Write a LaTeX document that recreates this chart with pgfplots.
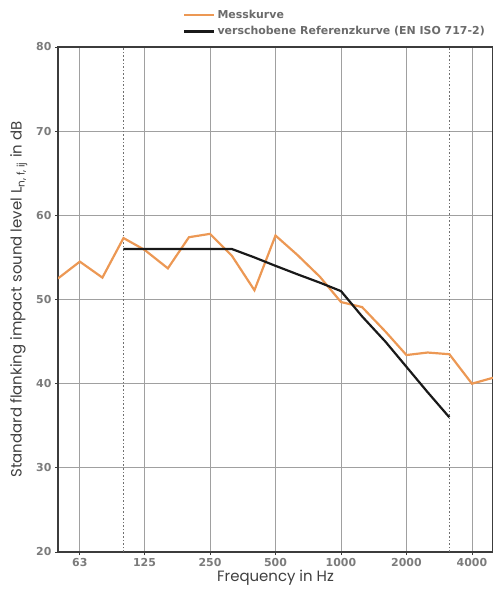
\documentclass[border=0pt]{standalone}
\usepackage{pgfplots}
\pgfplotsset{compat=1.18}
\usepackage{fontspec}
\setmainfont{Poppins}
\newfontfamily\tickfont{DejaVu Sans}
\definecolor{orangeline}{RGB}{236,152,84}
\definecolor{gridgrey}{RGB}{160,160,160}
\definecolor{textgrey}{RGB}{90,90,90}
\definecolor{framegrey}{RGB}{60,60,60}
\pgfplotstableread{
f L
50 52.5
63 54.5
80 52.6
100 57.3
125 55.9
160 53.7
200 57.4
250 57.8
315 55.2
400 51.1
500 57.6
630 55.3
800 52.7
1000 49.7
1250 49.1
1600 46.2
2000 43.4
2500 43.7
3150 43.5
4000 40.0
5000 40.7
}\mess
\pgfplotstableread{
f L
100 56
125 56
160 56
200 56
250 56
315 56
400 55
500 54
630 53
800 52
1000 51
1250 48
1600 45
2000 42
2500 39
3150 36
}\ref
\begin{document}
\begin{tikzpicture}
\useasboundingbox (-58bp,-39bp) rectangle (435bp,552bp);
\begin{axis}[
  at={(0,0)}, anchor=south west,
  scale only axis,
  width=435bp, height=505bp,
  xmode=log, log basis x=2,
  xmin=50, xmax=5000, ymin=20, ymax=80,
  xtick={63,125,250,500,1000,2000,4000},
  xticklabels={63,125,250,500,1000,2000,4000},
  ytick={20,30,40,50,60,70,80},
  grid=major,
  major grid style={gridgrey, line width=0.8pt},
  axis line style={framegrey, line width=1.6pt},
  tick style={framegrey, line width=0.8pt},
  tick align=outside,
  major tick length=3bp,
  xtick pos=bottom, ytick pos=left,
  ticklabel style={font=\tickfont\fontsize{11}{12}\selectfont\bfseries, text=textgrey!80},
  /pgf/number format/assume math mode=true,
  xlabel={Frequency in Hz},
  ylabel={Standard flanking impact sound level L\textsubscript{n, f, ij} in dB},
  label style={font=\fontsize{15}{17}\selectfont, text=textgrey!70!black},
  xlabel style={yshift=4bp},
  ylabel style={yshift=2bp},
  legend style={draw=none, fill=none, at={(0.287,1.077)}, anchor=north west,
    font=\tickfont\fontsize{11}{12.5}\selectfont\bfseries, text=textgrey!90,
    row sep=2.5bp, cells={anchor=west}, inner sep=0pt},
  legend cell align=left,
  legend image code/.code={\draw[#1, line width=2.5pt] (0bp,0bp) -- (30bp,0bp);},
]
\addplot[gridgrey!70!black, line width=1.6pt, dotted, forget plot] coordinates {(100,20) (100,80)};
\addplot[gridgrey!70!black, line width=1.6pt, dotted, forget plot] coordinates {(3150,20) (3150,80)};
\addplot[orangeline, line width=2.2pt] table[x=f,y=L] {\mess};
\addlegendentry{Messkurve}
\addplot[black!90, line width=2.2pt] table[x=f,y=L] {\ref};
\addlegendentry{verschobene Referenzkurve (EN ISO 717-2)}
\end{axis}
\end{tikzpicture}
\end{document}
